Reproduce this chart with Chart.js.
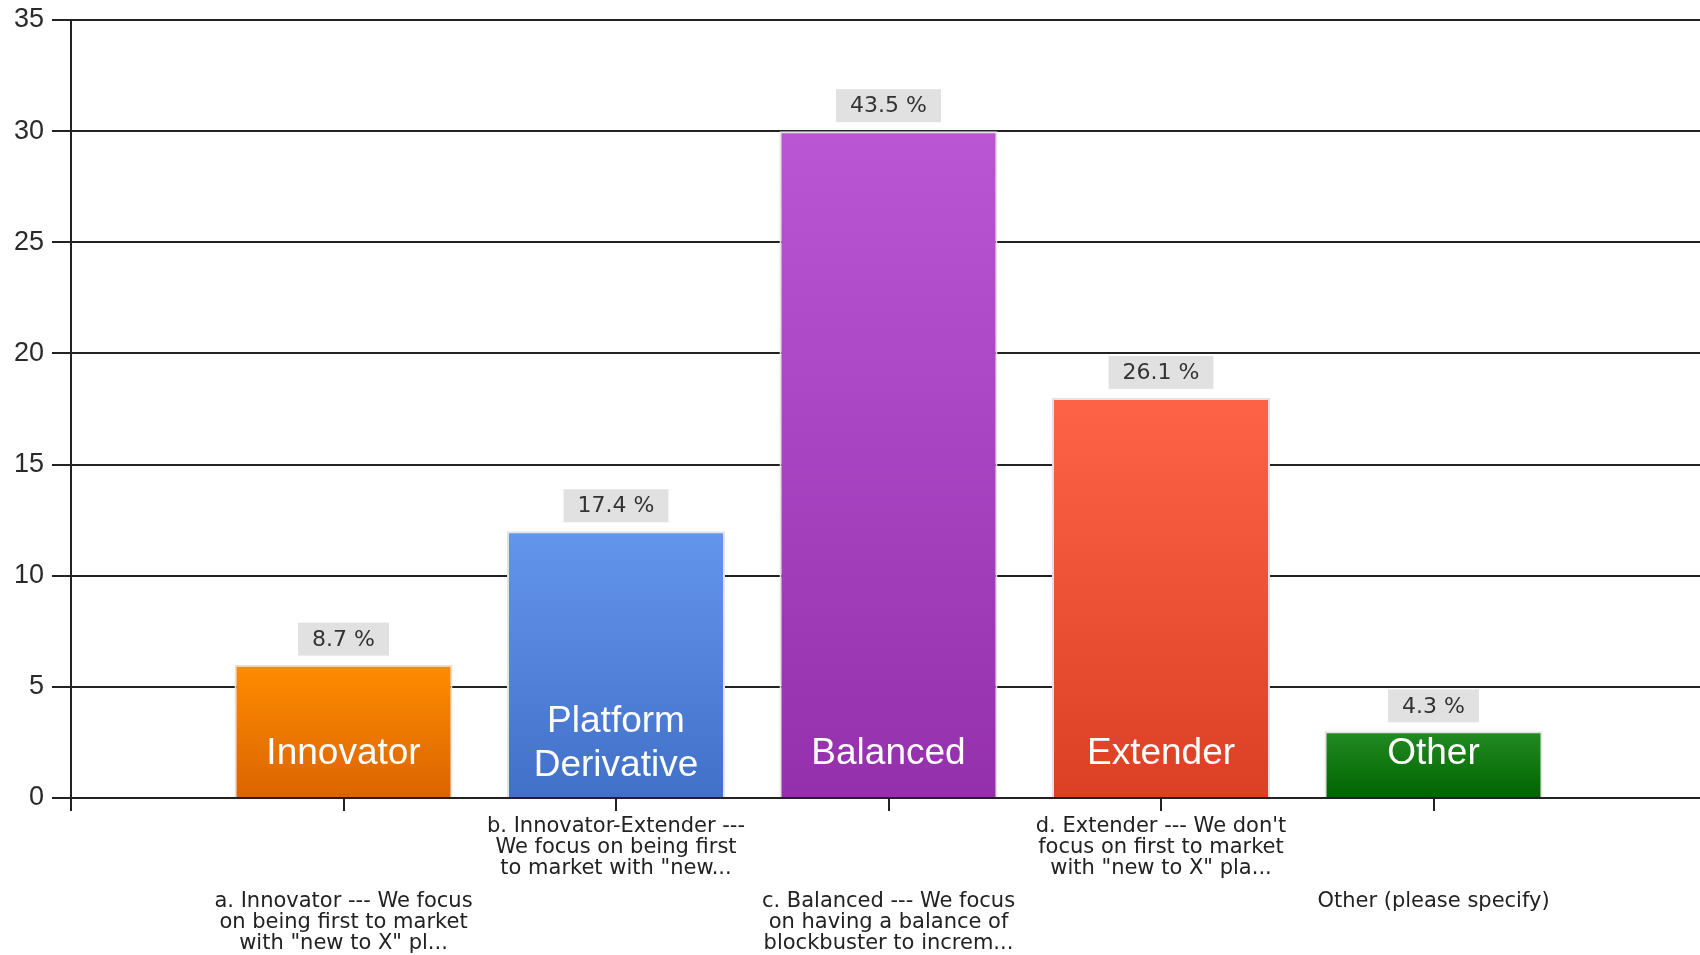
<!DOCTYPE html>
<html>
<head>
<meta charset="utf-8">
<script src="https://cdn.jsdelivr.net/npm/chart.js@4.4.0/dist/chart.umd.min.js"></script>
<style>
html, body { margin: 0; padding: 0; background: #fff; overflow: hidden; }
#wrap { width: 1700px; height: 955px; overflow: hidden; }
</style>
</head>
<body>
<div id="wrap"><canvas id="chart" width="1706" height="955"></canvas></div>
<script>
// survey answers, counts per category
const categories = [
    ["a. Innovator --- We focus", "on being first to market", "with \"new to X\" pl..."],
    ["b. Innovator-Extender ---", "We focus on being first", "to market with \"new..."],
    ["c. Balanced --- We focus", "on having a balance of", "blockbuster to increm..."],
    ["d. Extender --- We don't", "focus on first to market", "with \"new to X\" pla..."],
    ["Other (please specify)"]
]
const shortNames = [["Innovator"], ["Platform", "Derivative"], ["Balanced"], ["Extender"], ["Other"]]
const counts = [6, 12, 30, 18, 3]
const percents = [8.7, 17.4, 43.5, 26.1, 4.3]
const topColors = ["#ff8c00", "#6495ed", "#ba55d3", "#ff6347", "#228b22"]
const bottomColors = ["#db6400", "#4170c8", "#9530ad", "#dc4024", "#006400"]
const yMax = 35
const yStep = 5

// one empty slot either side so the bars sit like the original
const labels = ["", ...categories.map((c, i) => "c" + i), ""]
const values = [null, ...counts, null]

function barGradient(context) {
    const chart = context.chart
    const i = context.dataIndex - 1
    if (i < 0 || i >= counts.length) return "#ccc"
    if (!chart.chartArea) return topColors[i]
    const y = chart.scales.y
    const g = chart.ctx.createLinearGradient(0, y.getPixelForValue(counts[i]), 0, y.getPixelForValue(0))
    g.addColorStop(0, topColors[i])
    g.addColorStop(1, bottomColors[i])
    return g
}

const barText = {
    id: "barText",
    afterDatasetsDraw(chart) {
        const ctx = chart.ctx
        const meta = chart.getDatasetMeta(0)
        ctx.save()
        ctx.textAlign = "center"
        ctx.textBaseline = "middle"
        counts.forEach((v, i) => {
            const bar = meta.data[i + 1]
            // value box above the bar
            const txt = percents[i].toFixed(1) + " %"
            ctx.font = "22px 'DejaVu Sans'"
            const w = ctx.measureText(txt).width + 28
            const h = 33
            const bottom = bar.y - 9
            ctx.fillStyle = "#e1e1e1"
            ctx.fillRect(bar.x - w / 2, bottom - h, w, h)
            ctx.fillStyle = "#333"
            ctx.fillText(txt, bar.x, bottom - h / 2 + 1)
            // short name inside the bar
            const lines = shortNames[i]
            ctx.font = "37px 'Liberation Sans'"
            ctx.fillStyle = "#fff"
            const last = bar.base - 43 + (lines.length - 1) * 12
            lines.forEach((l, k) => {
                ctx.fillText(l, bar.x, last - (lines.length - 1 - k) * 44)
            })
        })
        // category labels, staggered in two rows
        const xs = chart.scales.x
        const zero = chart.scales.y.getPixelForValue(0)
        ctx.font = "21px 'DejaVu Sans'"
        ctx.fillStyle = "#222"
        categories.forEach((lines, i) => {
            const x = xs.getPixelForTick(i + 1)
            const first = zero + (i % 2 === 0 ? 104 : 29)
            lines.forEach((l, k) => {
                ctx.fillText(l, x, first + k * 21)
            })
        })
        ctx.restore()
    }
}

const chart = new Chart(document.getElementById("chart"), {
    type: "bar",
    data: {
        labels: labels,
        datasets: [{
            data: values,
            backgroundColor: barGradient,
            borderColor: "#e2e2e2",
            borderWidth: 2,
            barPercentage: 0.8,
            categoryPercentage: 1.0
        }]
    },
    options: {
        responsive: false,
        animation: false,
        devicePixelRatio: 1,
        layout: { padding: { top: 20, right: 0, bottom: 0, left: 0 } },
        plugins: {
            legend: { display: false },
            tooltip: { enabled: false }
        },
        scales: {
            x: {
                offset: false,
                afterFit(scale) { scale.height = 157 },
                ticks: { display: false },
                grid: { offset: false, drawOnChartArea: false, drawTicks: true, tickLength: 13, color: "#222", lineWidth: 2 },
                border: { display: true, color: "#222", width: 2 }
            },
            y: {
                min: 0,
                max: yMax,
                afterFit(scale) {
                    scale.width = 71
                    scale.paddingTop = 0
                    scale.paddingBottom = 0
                },
                ticks: {
                    stepSize: yStep,
                    padding: 8,
                    color: "#2a2a2a",
                    font: { family: "'Liberation Sans'", size: 27, lineHeight: 1 }
                },
                grid: { color: "#222", lineWidth: 2, tickLength: 19 },
                border: { display: true, color: "#222", width: 2 }
            }
        }
    },
    plugins: [barText]
})
</script>
</body>
</html>
